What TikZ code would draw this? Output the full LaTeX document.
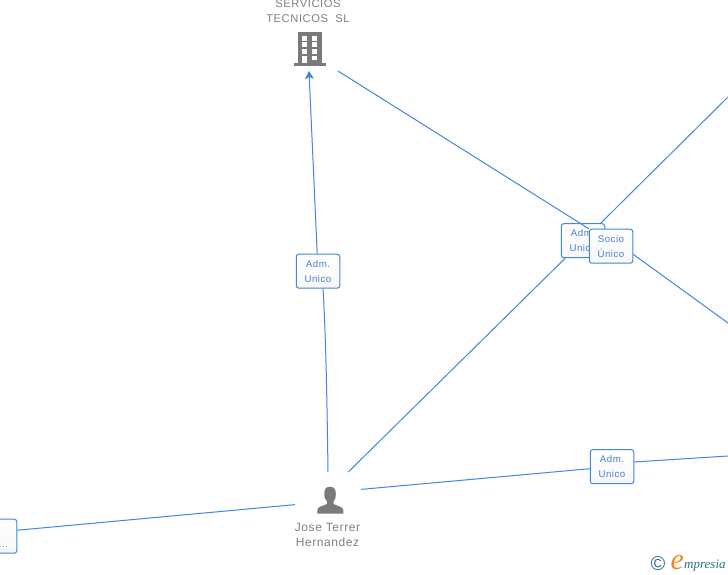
\documentclass[tikz,border=0pt]{standalone}
\usepackage{fontspec}
\setmainfont{Liberation Sans}
\newfontfamily\namefont[LetterSpace=5]{Liberation Sans}
\newfontfamily\rolefont[LetterSpace=5]{Liberation Sans}
\newfontfamily\logofont{Liberation Serif}
\usepackage{tikz}
\usetikzlibrary{positioning,arrows,arrows.meta}
\definecolor{edgeblue}{HTML}{4186E0}
\definecolor{labelblue}{HTML}{4A80CC}
\definecolor{icongrey}{HTML}{7A7A7A}
\definecolor{namegrey}{HTML}{808080}
\definecolor{logoteal}{HTML}{2F6F86}
\definecolor{logoorange}{HTML}{F08A1D}
\tikzset{
  linkline/.style={draw=edgeblue, line width=1pt},
  rolebox/.style={draw=edgeblue, line width=1pt, rounded corners=2.5pt, top color=white, bottom color=black!3,
    minimum width=43.5pt, minimum height=34pt, inner sep=0pt, align=center, text=labelblue,
    font=\fontsize{9.7}{15}\rolefont},
  iconbox/.style={inner sep=0pt, outer sep=0pt},
  nametext/.style={inner sep=0pt, align=center, text=namegrey, font=\fontsize{12}{15}\namefont}
}
\begin{document}
\begin{tikzpicture}[x=1pt,y=-1pt]
      \path[use as bounding box, fill=white] (0,0) rectangle (728,575);
      \node[iconbox, minimum width=58pt, minimum height=46pt] (company) at (309,48) {};
      \node[iconbox, minimum width=66pt, minimum height=50pt] (person) at (328,497) {};
      \node[nametext, font=\fontsize{11.2}{15}\namefont] (companyname) at (308,11.5) {SERVICIOS\\TECNICOS\ \ SL};
      \node[nametext] (personname) at (327.5,535.3) {Jose Terrer\\Hernandez};
      \coordinate (endup) at (728,97);
      \coordinate (enddown) at (728,323);
      \coordinate (endright) at (728,456);
      \node[rolebox] (adm1) at (318,271.2) {Adm.\\Unico};
      \node[rolebox] (adm2) at (583,240.7) {Adm.\\Unico};
      \node[rolebox] (adm3) at (612,466.7) {Adm.\\Unico};
      \node[rolebox] (admleft) at (-5,536.2) {\phantom{Adm.}\\\hspace*{17pt}...};
      \draw[linkline] (person.north) .. controls (327,400) and (326,340) .. (adm1.-74);
      \draw[linkline, -{Stealth[length=8pt,width=9pt,inset=2pt]}] (adm1) -- (company.south);
      \draw[linkline] (person.51) -- (adm2);
      \draw[linkline] (adm2) -- (endup);
      \draw[linkline] (person.13.6) -- (adm3);
      \draw[linkline] (adm3.12) -- (endright);
      \draw[linkline] (admleft.15) -- (person.193.6);
      \node[rolebox] (socio) at (611,246.2) {Socio\\Único};
      \draw[linkline] (company.south east) -- (socio.north west);
      \draw[linkline] (socio.-20) -- (enddown);
      \fill[icongrey] (298.3,32) rectangle (321.7,63);
      \fill[icongrey] (293.5,63) rectangle (326,65.7);
      \foreach \y in {36,42.5,49}
        \foreach \x in {302.3,311.7}
          \fill[white] (\x,\y) rectangle ++(5,4.6);
      \fill[white] (302.3,56) rectangle ++(5,7);
      \fill[white] (311.7,56) rectangle ++(5,4);
      \fill[icongrey] (330,486.7) .. controls (325.5,486.7) and (324.3,490) .. (324.3,494)
        .. controls (324.3,497.5) and (325.5,500) .. (327,501.5) -- (327,504)
        .. controls (323,506) and (317.5,506.5) .. (317.3,510) -- (317.3,513.5) -- (343.3,513.5) -- (343.3,510)
        .. controls (343,506.5) and (337,506) .. (333.5,504) -- (333.5,501.5)
        .. controls (335,500) and (335.8,497.5) .. (335.8,494)
        .. controls (335.8,490) and (334.5,486.7) .. (330,486.7) -- cycle;
      \node[inner sep=0pt, text=logoteal, font=\fontsize{20}{20}\selectfont] (copyright) at (658,564) {©};
      \node[inner sep=0pt, anchor=base west, text=logoorange, font=\fontsize{30}{30}\logofont\itshape] (logoe) at (670.5,569.5) {e};
      \node[inner sep=0pt, anchor=base west, text=logoteal, font=\fontsize{13}{13}\logofont\itshape] (logotext) at (684,568.5) {mpresia};
\end{tikzpicture}
\end{document}
